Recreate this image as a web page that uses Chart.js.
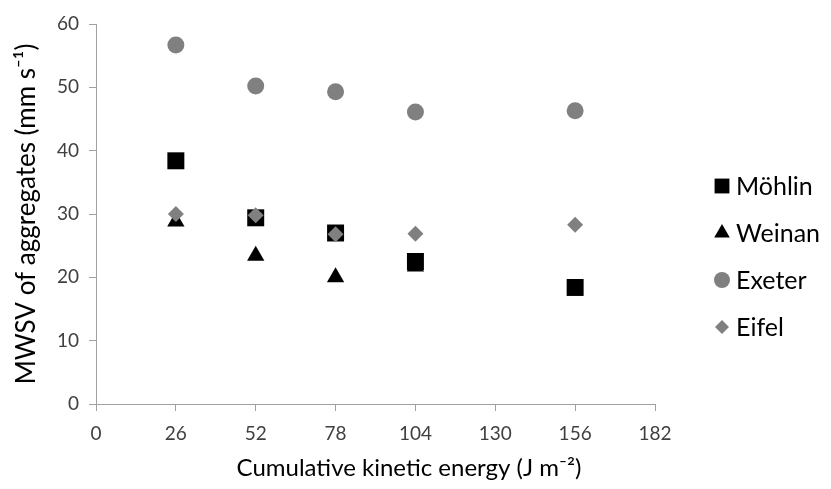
<!DOCTYPE html>
<html>
<head>
<meta charset="utf-8">
<script src="https://cdn.jsdelivr.net/npm/chart.js"></script>
<style>
  html, body { margin: 0; padding: 0; background: #fff; }
  #wrap { width: 831px; height: 489px; position: relative; }
</style>
</head>
<body>
<div id="wrap"><canvas id="chart"></canvas></div>
<script>
// Datos
const energy = [26, 52, 78, 104, 156];
const mohlin = [38.4, 29.4, 27.0, 22.5, 18.4];
const weinan = [28.8, 23.4, 20.0, 21.7, null];
const exeter = [56.7, 50.2, 49.3, 46.1, 46.3];
const eifel = [30.0, 29.8, 26.8, 26.9, 28.3];

const xTicks = [0, 26, 52, 78, 104, 130, 156, 182];
const yTicks = [0, 10, 20, 30, 40, 50, 60];

const FONT = "Lato, 'Open Sans', sans-serif";

const toPoints = (ys) => energy.map((x, i) => ({ x: x, y: ys[i] })).filter(p => p.y !== null);

// leyenda propia (posicion fija a la derecha) + titulo del eje X
const legendPlugin = {
    id: 'sideLegend',
    afterDraw(chart) {
        const ctx = chart.ctx;
        const sets = chart.data.datasets;
        const legendSizes = [10.5, 9, 8, 7];
        ctx.save();
        sets.forEach((ds, i) => {
            const y = 186 + i * 47;
            ctx.fillStyle = ds.backgroundColor;
            ctx.strokeStyle = ds.backgroundColor;
            Chart.helpers.drawPoint(ctx, {
                pointStyle: ds.pointStyle,
                radius: legendSizes[i],
                rotation: 0,
                borderWidth: 0
            }, 722, y);
            ctx.fillStyle = '#000';
            ctx.font = "25px " + FONT;
            ctx.textBaseline = 'middle';
            ctx.textAlign = 'left';
            ctx.fillText(ds.label, 736, y + 1);
        });
        ctx.fillStyle = '#000';
        ctx.font = "24px " + FONT;
        ctx.textAlign = 'center';
        ctx.textBaseline = 'middle';
        ctx.fillText('Cumulative kinetic energy (J m\u207B\u00B2)', 409, 468);
        ctx.restore();
    }
};

new Chart(document.getElementById('chart'), {
    type: 'scatter',
    data: {
        datasets: [
            {
                label: 'Möhlin',
                data: toPoints(mohlin),
                pointStyle: 'rect',
                backgroundColor: '#000000',
                borderColor: '#000000',
                pointRadius: 12,
                borderWidth: 0,
                order: 3
            },
            {
                label: 'Weinan',
                data: toPoints(weinan),
                pointStyle: 'triangle',
                backgroundColor: '#000000',
                borderColor: '#000000',
                pointRadius: 10,
                borderWidth: 0,
                order: 2
            },
            {
                label: 'Exeter',
                data: toPoints(exeter),
                pointStyle: 'circle',
                backgroundColor: '#808080',
                borderColor: '#808080',
                pointRadius: 8.5,
                borderWidth: 0,
                order: 1
            },
            {
                label: 'Eifel',
                data: toPoints(eifel),
                pointStyle: 'rectRot',
                backgroundColor: '#808080',
                borderColor: '#808080',
                pointRadius: 8,
                borderWidth: 0,
                order: 0
            }
        ]
    },
    options: {
        responsive: true,
        maintainAspectRatio: false,
        animation: false,
        layout: { padding: { left: 11, right: 176, top: 24, bottom: 0 } },
        plugins: {
            legend: { display: false },
            tooltip: { enabled: false }
        },
        scales: {
            x: {
                type: 'linear',
                min: 0,
                max: 182,
                afterBuildTicks: (axis) => { axis.ticks = xTicks.map(v => ({ value: v })); },
                afterFit: (axis) => { axis.height = 85; },
                border: { color: '#a0a0a0', width: 1 },
                grid: { drawOnChartArea: false, tickLength: 7, color: '#a0a0a0' },
                ticks: {
                    color: '#404040',
                    padding: 11,
                    font: { family: FONT, size: 19 }
                }
            },
            y: {
                type: 'linear',
                min: 0,
                max: 60,
                afterBuildTicks: (axis) => { axis.ticks = yTicks.map(v => ({ value: v })); },
                afterFit: (axis) => { axis.width = 85; },
                border: { color: '#a0a0a0', width: 1 },
                grid: { drawOnChartArea: false, tickLength: 7, color: '#a0a0a0' },
                ticks: {
                    color: '#404040',
                    padding: 10,
                    font: { family: FONT, size: 19 }
                },
                title: {
                    display: true,
                    text: 'MWSV of aggregates (mm s\u207B\u00B9)',
                    color: '#000',
                    padding: { top: 0, bottom: 0 },
                    font: { family: FONT, size: 26 }
                }
            }
        }
    },
    plugins: [legendPlugin]
});
</script>
</body>
</html>
